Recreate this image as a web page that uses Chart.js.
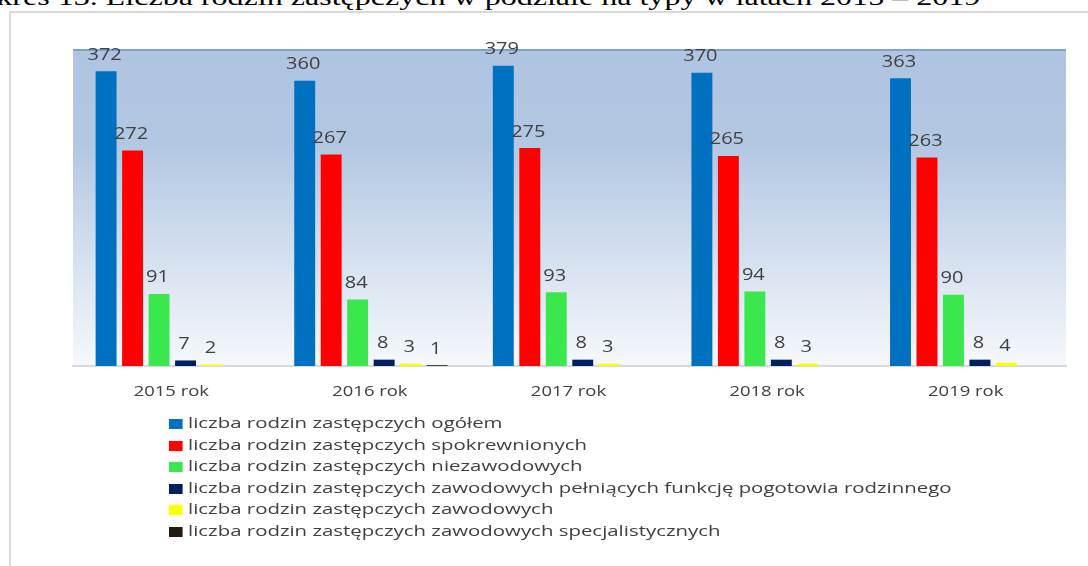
<!DOCTYPE html>
<html>
<head>
<meta charset="utf-8">
<script src="https://cdn.jsdelivr.net/npm/chart.js@4/dist/chart.umd.min.js"></script>
<style>
	body { margin: 0; width: 1088px; height: 566px; overflow: hidden; background: #fff; position: relative; }
	#title { position: absolute; right: 108px; top: -15px; font-family: "Liberation Serif", serif; font-size: 24px; line-height: 24px; white-space: nowrap; color: #000; transform: scaleX(1.335); transform-origin: right top; }
	#frame { position: absolute; left: 9px; top: 11px; width: 1100px; height: 600px; border-left: 2px solid #d9d9d9; border-top: 2px solid #d9d9d9; }
	#wrap { position: absolute; left: 0; top: 0; width: 1088px; height: 420px; }
	#legend { position: absolute; left: 169px; top: 412px; font-family: "Open Sans", sans-serif; font-size: 15px; color: #404040; transform: scaleX(1.36); transform-origin: left top; }
	#legend div { height: 21.6px; line-height: 21.6px; white-space: nowrap; }
	#legend span { display: inline-block; width: 9.5px; height: 10px; margin-right: 4.5px; vertical-align: -1px; }
</style>
</head>
<body>
<div id="title">Wykres 13. Liczba rodzin zastępczych w podziale na typy w latach 2015 – 2019</div>
<div id="frame"></div>
<div id="wrap"><canvas id="myChart"></canvas></div>
<div id="legend"></div>
<script>
var lata = ["2015 rok", "2016 rok", "2017 rok", "2018 rok", "2019 rok"];
var ogolem = [372, 360, 379, 370, 363];
var spokrewnione = [272, 267, 275, 265, 263];
var niezawodowe = [91, 84, 93, 94, 90];
var pogotowie = [7, 8, 8, 8, 8];
var zawodowe = [2, 3, 3, 3, 4];
var specjalistyczne = [0, 1, 0, 0, 0];

var nazwy = [
	"liczba rodzin zastępczych ogółem",
	"liczba rodzin zastępczych spokrewnionych",
	"liczba rodzin zastępczych niezawodowych",
	"liczba rodzin zastępczych zawodowych pełniących funkcję pogotowia rodzinnego",
	"liczba rodzin zastępczych zawodowych",
	"liczba rodzin zastępczych zawodowych specjalistycznych"
];
var kolory = ["#0070c0", "#ff0000", "#3ae84d", "#002060", "#ffff00", "#201c10"];
var serie = [ogolem, spokrewnione, niezawodowe, pogotowie, zawodowe, specjalistyczne];

var datasets = [];
for (var i = 0; i < serie.length; i++) {
	datasets.push({
		label : nazwy[i],
		data : serie[i],
		backgroundColor : kolory[i],
		categoryPercentage : 0.8,
		barPercentage : 0.79
	});
}

// tlo obszaru wykresu (gradient)
var tlo = {
	id : "tlo",
	beforeDraw : function(chart) {
		var a = chart.chartArea;
		var ctx = chart.ctx;
		var g = ctx.createLinearGradient(0, a.top, 0, a.bottom);
		g.addColorStop(0, "#aec4e0");
		g.addColorStop(0.3, "#b2c7e2");
		g.addColorStop(1, "#f6f8fc");
		ctx.save();
		ctx.fillStyle = g;
		ctx.fillRect(a.left, a.top, a.right - a.left, a.bottom - a.top);
		ctx.fillStyle = "#7ea2d4";
		ctx.fillRect(a.left, a.top, a.right - a.left, 2);
		ctx.restore();
	}
};

// tekst rozciagniety w poziomie (jak na oryginale)
function napis(ctx, txt, x, y, sx) {
	ctx.save();
	ctx.translate(x, y);
	ctx.scale(sx, 1);
	ctx.fillText(txt, 0, 0);
	ctx.restore();
}

// etykiety wartosci nad slupkami i podpisy osi X
var etykiety = {
	id : "etykiety",
	afterDatasetsDraw : function(chart) {
		var ctx = chart.ctx;
		ctx.save();
		ctx.fillStyle = "#404040";
		ctx.textAlign = "center";
		ctx.textBaseline = "alphabetic";
		ctx.font = "16px 'Open Sans'";
		chart.data.datasets.forEach(function(ds, di) {
			var meta = chart.getDatasetMeta(di);
			meta.data.forEach(function(bar, j) {
				if (ds.data[j] > 0) {
					napis(ctx, String(ds.data[j]), bar.x - 1.5, bar.y - 11.5, 1.25);
				}
			});
		});
		var xs = chart.scales.x;
		ctx.font = "15px 'Open Sans'";
		for (var t = 0; t < chart.data.labels.length; t++) {
			napis(ctx, chart.data.labels[t], xs.getPixelForTick(t) - 1, chart.chartArea.bottom + 30, 1.23);
		}
		ctx.restore();
	}
};

var ctx = document.getElementById("myChart");
var myChart = new Chart(ctx, {
	type : "bar",
	data : { labels : lata, datasets : datasets },
	plugins : [tlo, etykiety],
	options : {
		responsive : true,
		maintainAspectRatio : false,
		animation : false,
		layout : { padding : { left : 73, right : 22, top : 49, bottom : 2 } },
		plugins : {
			legend : { display : false },
			tooltip : { enabled : false }
		},
		scales : {
			y : { display : false, min : 0, max : 400 },
			x : {
				grid : { display : false, drawTicks : false },
				border : { color : "#d9d9d9", width : 2 },
				ticks : { color : "rgba(0,0,0,0)", font : { family : "Open Sans", size : 15 }, padding : 17 }
			}
		}
	}
});

var leg = document.getElementById("legend");
for (var k = 0; k < nazwy.length; k++) {
	var row = document.createElement("div");
	var sq = document.createElement("span");
	sq.style.background = kolory[k];
	row.appendChild(sq);
	row.appendChild(document.createTextNode(nazwy[k]));
	leg.appendChild(row);
}
</script>
</body>
</html>
